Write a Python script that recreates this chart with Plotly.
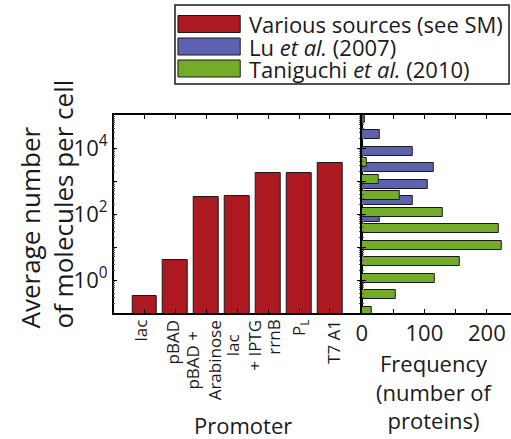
import math
import plotly.graph_objects as go

# Promoter expression levels (average molecules per cell)
promoters = ["lac", "pBAD", "pBAD +<br>Arabinose", "lac<br>+ IPTG", "rrnB", "P<sub>L</sub>", "T7 A1"]
molecules = [0.32, 4.0, 320, 360, 1700, 1800, 3550]

# Protein abundance histograms, bins given as log10(molecules per cell)
lu_bin_log10 = [1.9, 2.4, 2.9, 3.4, 3.9, 4.4, 4.9]
lu_counts = [29, 81, 105, 115, 82, 29, 5]

tani_bin_log10 = [-0.95, -0.45, 0.05, 0.55, 1.05, 1.55, 2.05, 2.55, 3.05, 3.55]
tani_counts = [16, 55, 116, 156, 223, 219, 129, 61, 27, 8]

decades = list(range(-1, 6))
decade_labels = ["", "10<sup>0</sup>", "", "10<sup>2</sup>", "", "10<sup>4</sup>", ""]
freq_ticks = [0, 50, 100, 150, 200]
freq_labels = ["0", "", "100", "", "200"]

series_names = ["Various sources (see SM)", "Lu <i>et al.</i> (2007)", "Taniguchi <i>et al.</i> (2010)"]
RED, BLUE, GREEN = "#AC1920", "#5D62B0", "#73AC29"
series_colors = [RED, BLUE, GREEN]

W, H = 511, 439
FONT = "Open Sans"


def px(x):
    return x / W


def py(y):
    return 1 - y / H


fig = go.Figure()

fig.add_trace(go.Bar(
    x=promoters, y=molecules, width=0.8,
    marker=dict(color=RED, line=dict(color="#1a1a1a", width=1)),
    xaxis="x", yaxis="y", showlegend=False,
))
fig.add_trace(go.Bar(
    y=lu_bin_log10, x=lu_counts, orientation="h", width=0.28,
    marker=dict(color=BLUE, line=dict(color="#1a1a1a", width=1)),
    xaxis="x2", yaxis="y2", showlegend=False,
))
fig.add_trace(go.Bar(
    y=tani_bin_log10, x=tani_counts, orientation="h", width=0.28,
    marker=dict(color=GREEN, line=dict(color="#1a1a1a", width=1)),
    xaxis="x2", yaxis="y2", showlegend=False,
))

minor_log_vals = [k * 10.0 ** n for n in range(-1, 5) for k in range(2, 10)]
minor_exp_vals = [math.log10(k) + n for n in range(-1, 5) for k in range(2, 10)]

y_dom = [py(313), py(115)]
axis_line = dict(showline=True, linecolor="black", linewidth=1.5, showgrid=False, zeroline=False)

fig.update_layout(
    width=W, height=H,
    margin=dict(l=0, r=0, t=0, b=0),
    paper_bgcolor="white", plot_bgcolor="white",
    font=dict(family=FONT, color="#1a1a1a"),
    barmode="overlay", bargap=0,
    xaxis=dict(
        domain=[px(109), px(359)], anchor="y", range=[-1, 7],
        mirror="ticks", ticks="inside", ticklen=4, tickcolor="black",
        showticklabels=False, **axis_line,
    ),
    yaxis=dict(
        domain=y_dom, anchor="x", type="log", range=[-1, 5],
        tickvals=[10.0 ** d for d in decades], ticktext=decade_labels,
        mirror="ticks", ticks="inside", ticklen=4, tickcolor="black",
        tickfont=dict(size=22),
        minor=dict(tickvals=minor_log_vals, ticks="inside", ticklen=2, tickcolor="#555"),
        **axis_line,
    ),
    xaxis2=dict(
        domain=[px(360), 1], anchor="y2", range=[0, 238.5],
        tickvals=freq_ticks, ticktext=freq_labels,
        mirror="ticks", ticks="inside", ticklen=4, tickcolor="black",
        tickfont=dict(size=22), **axis_line,
    ),
    yaxis2=dict(
        domain=y_dom, anchor="x2", range=[-1, 5],
        tickvals=decades, showticklabels=False,
        ticks="inside", ticklen=4, tickcolor="black",
        minor=dict(tickvals=minor_exp_vals, ticks="inside", ticklen=2, tickcolor="#555"),
        **axis_line,
    ),
)


def label(text, x, y, size, **kw):
    opts = dict(xanchor="center", yanchor="middle")
    opts.update(kw)
    fig.add_annotation(text=text, x=px(x), y=py(y), xref="paper", yref="paper",
                       showarrow=False, font=dict(size=size), **opts)


# Promoter names, rotated and hanging under each bar (small nudges keep
# the two-line names apart)
label_nudge = [-5, -3, -3, 6, 5, 0, 3]
for name, dx in zip(promoters, label_nudge):
    fig.add_annotation(text=name, x=name, xref="x", y=py(318), yref="paper",
                       xanchor="center", yanchor="top", textangle=-90, align="center",
                       xshift=dx, showarrow=False, font=dict(size=17))

# Axis titles
label("Average number<br>of molecules per cell", 41, 204, 26, textangle=-90, align="left")
label("Promoter", 240, 425, 22)
label("Frequency<br>(number of<br>proteins)", 434, 391, 22)

# Legend box with swatches
fig.add_shape(type="rect", xref="paper", yref="paper",
              x0=px(171), x1=px(509), y0=py(84), y1=py(5),
              line=dict(color="#1a1a1a", width=1.5), fillcolor="white")
row_centers = [24, 46.5, 68.5]
for name, color, yc in zip(series_names, series_colors, row_centers):
    fig.add_shape(type="rect", xref="paper", yref="paper",
                  x0=px(174), x1=px(237), y0=py(yc + 8.5), y1=py(yc - 8.5),
                  line=dict(color="#1a1a1a", width=1), fillcolor=color)
    label(name, 244, yc, 22, xanchor="left")

fig.write_html("out.html")
